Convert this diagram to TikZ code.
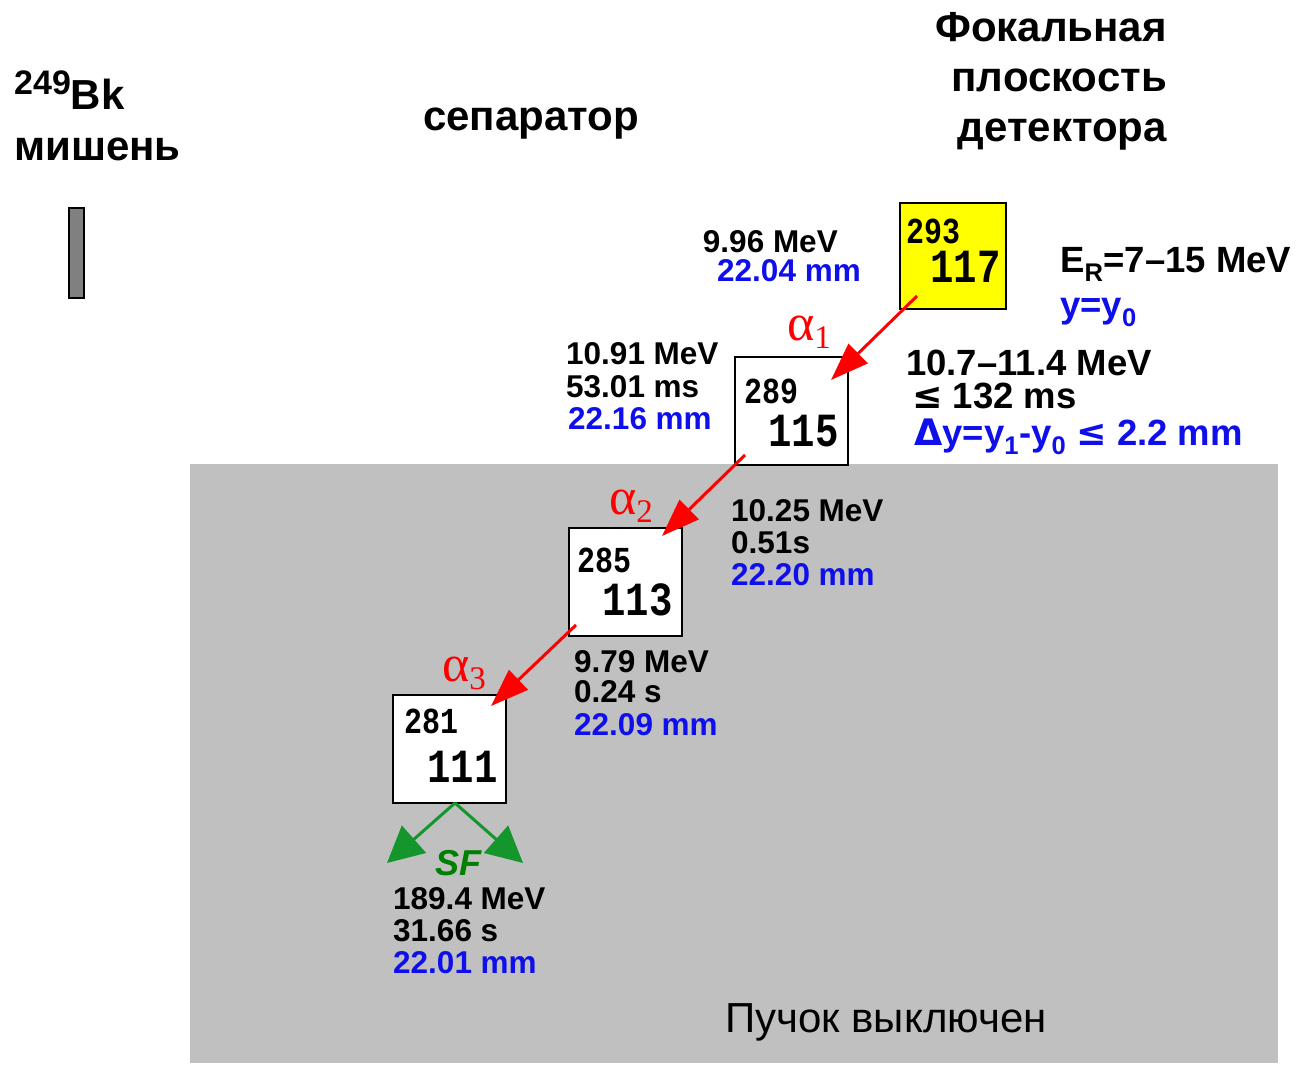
\documentclass[tikz,border=0pt]{standalone}
\usepackage{fontspec}
\usepackage{graphicx}
\setmainfont{Liberation Sans}
\newfontfamily\boxfont{Liberation Mono}
\newfontfamily\serfont{Liberation Serif}
\newfontfamily\symfont{DejaVu Sans}
\usetikzlibrary{arrows.meta}
\definecolor{bgray}{RGB}{192,192,192}
\definecolor{tgray}{RGB}{128,128,128}
\definecolor{tblue}{RGB}{15,15,235}
\definecolor{tyel}{RGB}{255,255,0}
\definecolor{agreen}{RGB}{20,150,45}
\definecolor{sfgreen}{RGB}{0,128,0}
\newcommand{\tallnum}[1]{\scalebox{1}[1.22]{#1}}
\tikzset{
  lbl/.style={inner sep=0pt, font=\fontsize{31.5}{33}\selectfont\bfseries},
  big/.style={inner sep=0pt, font=\fontsize{36.5}{38}\selectfont\bfseries},
  ttl/.style={inner sep=0pt, font=\fontsize{42}{44}\selectfont\bfseries},
  nucbox/.style={draw=black, line width=2pt, fill=white, minimum width=113pt, minimum height=108pt, inner sep=0pt},
  amass/.style={inner sep=0pt, font=\fontsize{30}{30}\selectfont\boxfont\bfseries},
  zed/.style={inner sep=0pt, font=\fontsize{39}{40}\selectfont\boxfont\bfseries},
  alph/.style={inner sep=0pt, text=red, font=\fontsize{52}{52}\selectfont\serfont},
  decay/.style={draw=red, line width=3pt, -{Triangle[length=38pt,width=27pt]}},
  sfarr/.style={draw=agreen, line width=3pt, -{Triangle[length=36pt,width=36pt]}}
}
\begin{document}
\begin{tikzpicture}[x=1pt,y=-1pt]
\useasboundingbox (0,0) rectangle (1299,1065);
% beam-off area
\fill[bgray] (190,464) rectangle (1278,1063);
% target
\draw[fill=tgray, line width=1.2pt] (69,208) rectangle (84,298);
% titles
\node[ttl, anchor=base west] (bk) at (14,110) {\raisebox{15pt}{\fontsize{34}{34}\selectfont 249}Bk};
\node[ttl, anchor=base west] (mish) at (14,160) {мишень};
\node[ttl, anchor=base west] (sep) at (423,130) {сепаратор};
\node[ttl, anchor=base east] (f1) at (1167,42) {Фокальная};
\node[ttl, anchor=base east] (f2) at (1167,92) {плоскость};
\node[ttl, anchor=base east] (f3) at (1167,141) {детектора};
% boxes
\node[nucbox, fill=tyel, minimum width=106pt, minimum height=106pt] (b117) at (952.5,255.5) {};
\node[nucbox] (b115) at (791.5,410.5) {};
\node[nucbox] (b113) at (625.5,581.5) {};
\node[nucbox] (b111) at (449.5,749) {};
\node[amass, anchor=base west] (m293) at (906,243) {\tallnum{293}};
\node[zed, anchor=base east] (z117) at (1001,282) {\tallnum{117}};
\node[amass, anchor=base west] (m289) at (744,403) {\tallnum{289}};
\node[zed, anchor=base east] (z115) at (839,446) {\tallnum{115}};
\node[amass, anchor=base west] (m285) at (577,572) {\tallnum{285}};
\node[zed, anchor=base east] (z113) at (673,615) {\tallnum{113}};
\node[amass, anchor=base west] (m281) at (404,733) {\tallnum{281}};
\node[zed, anchor=base east] (z111) at (498,782) {\tallnum{111}};
% decay arrows
\coordinate (a1s) at (917,296);
\coordinate (a1e) at (831,380);
\coordinate (a2s) at (745,455);
\coordinate (a2e) at (662,536);
\coordinate (a3s) at (576,625);
\coordinate (a3e) at (491,706);
\draw[decay] (a1s) -- (a1e);
\draw[decay] (a2s) -- (a2e);
\draw[decay] (a3s) -- (a3e);
\node[alph, anchor=base west] (al1) at (787,340) {α\raisebox{-8pt}{\fontsize{33}{33}\selectfont 1}};
\node[alph, anchor=base west] (al2) at (609,514) {α\raisebox{-8pt}{\fontsize{33}{33}\selectfont 2}};
\node[alph, anchor=base west] (al3) at (442,681) {α\raisebox{-8pt}{\fontsize{33}{33}\selectfont 3}};
% SF
\coordinate (sfo) at (455,803);
\coordinate (sfl) at (387,863);
\coordinate (sfr) at (523,863);
\draw[sfarr] (sfo) -- (sfl);
\draw[sfarr] (sfo) -- (sfr);
\node[inner sep=0pt, anchor=base, text=sfgreen, font=\fontsize{36}{36}\selectfont\bfseries\itshape] (sf) at (458,875) {SF};
% labels
\node[lbl, anchor=base east] (e0a) at (838,252) {9.96 MeV};
\node[lbl, anchor=base east, text=tblue] (e0b) at (861,281) {22.04 mm};
\node[big, anchor=base west] (era) at (1060,272) {E\textsubscript{R}=7–15 MeV};
\node[big, anchor=base west, text=tblue] (erb) at (1060,317) {y=y\textsubscript{0}};
\node[lbl, anchor=base west] (t1a) at (566,364) {10.91 MeV};
\node[lbl, anchor=base west] (t1b) at (566,397) {53.01 ms};
\node[lbl, anchor=base west, text=tblue] (t1c) at (568,429) {22.16 mm};
\node[big, anchor=base west] (rga) at (906,375) {10.7–11.4 MeV};
\node[big, anchor=base west] (rgb) at (912,408) {{\symfont\bfseries ≤} 132 ms};
\node[big, anchor=base west, text=tblue] (rgc) at (914,445) {{\symfont\bfseries Δ}y=y\textsubscript{1}-y\textsubscript{0} {\symfont\bfseries ≤} 2.2 mm};
\node[lbl, anchor=base west] (t2a) at (731,521) {10.25 MeV};
\node[lbl, anchor=base west] (t2b) at (731,553) {0.51s};
\node[lbl, anchor=base west, text=tblue] (t2c) at (731,585) {22.20 mm};
\node[lbl, anchor=base west] (t3a) at (574,672) {9.79 MeV};
\node[lbl, anchor=base west] (t3b) at (574,702) {0.24 s};
\node[lbl, anchor=base west, text=tblue] (t3c) at (574,735) {22.09 mm};
\node[lbl, anchor=base west] (t4a) at (393,909) {189.4 MeV};
\node[lbl, anchor=base west] (t4b) at (393,941) {31.66 s};
\node[lbl, anchor=base west, text=tblue] (t4c) at (393,973) {22.01 mm};
\node[inner sep=0pt, anchor=base west, font=\fontsize{42}{44}\selectfont] (off) at (725,1032) {Пучок выключен};
\end{tikzpicture}
\end{document}
